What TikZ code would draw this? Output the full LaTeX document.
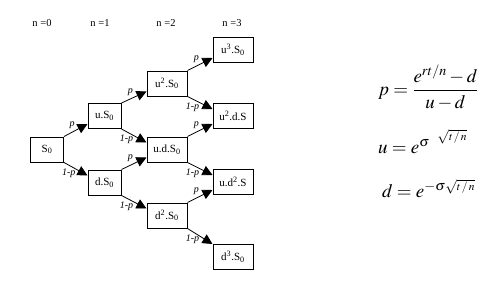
\documentclass[tikz,border=0pt]{standalone}
\usepackage{amsmath}
\usepackage{mathptmx}
\usepackage{fontspec}
\setmainfont{Liberation Serif}
\usetikzlibrary{positioning, arrows.meta}

\begin{document}
\begin{tikzpicture}[
      x=1pt, y=-1pt,
      box/.style={
        draw,
        line width=1pt,
        minimum width=40pt,
        minimum height=25pt,
        inner sep=1pt,
        font=\fontsize{11}{13}\selectfont
      },
      smallbox/.style={
        box,
        minimum width=33pt
      },
      arrow/.style={
        -{Triangle[length=10pt,width=10pt]},
        line width=0.8pt
      },
      prob/.style={
        font=\fontsize{10}{11}\selectfont\itshape,
        inner sep=1pt
      },
      head/.style={
        font=\fontsize{10.5}{12}\selectfont
      },
      formula/.style={
        anchor=base west,
        inner sep=0pt,
        font=\fontsize{19}{22}\selectfont
      }
    ]

    \useasboundingbox (0,0) rectangle (500,292);

    % step headers
    \node[head] (h0) at (42,23) {n =0};
    \node[head] (h1) at (100,23) {n =1};
    \node[head] (h2) at (166,23) {n =2};
    \node[head] (h3) at (232,23) {n =3};

    % tree
    \node[smallbox] (s0) at (47,149.5) {S\textsubscript{0}};
    \node[smallbox] (u1) at (104.5,116) {u.S\textsubscript{0}};
    \node[smallbox] (d1) at (104.5,182.5) {d.S\textsubscript{0}};
    \node[box] (uu2) at (167,83.5) {u\textsuperscript{2}.S\textsubscript{0}};
    \node[box] (ud2) at (167,149.5) {u.d.S\textsubscript{0}};
    \node[box] (dd2) at (167,215.5) {d\textsuperscript{2}.S\textsubscript{0}};
    \node[box] (uuu3) at (233,50) {u\textsuperscript{3}.S\textsubscript{0}};
    \node[box] (uud3) at (233,116) {u\textsuperscript{2}.d.S};
    \node[box] (udd3) at (233,182) {u.d\textsuperscript{2}.S};
    \node[box] (ddd3) at (233,257) {d\textsuperscript{3}.S\textsubscript{0}};

    % up moves
    \foreach \a/\b in {s0/u1, u1/uu2, d1/ud2, uu2/uuu3, ud2/uud3, dd2/udd3}
      \draw[arrow] (\a.north east) -- node[prob, pos=0.35, above=2pt] {p} ([yshift=5pt]\b.south west);

    % down moves
    \foreach \a/\b in {s0/d1, u1/ud2, d1/dd2, uu2/uud3, ud2/udd3}
      \draw[arrow] (\a.south east) -- node[prob, pos=0.2, below=2pt] {1-p} ([yshift=-6pt]\b.north west);
    \draw[arrow] (dd2.south east) -- node[prob, pos=0.2, below=2pt] {1-p} (ddd3.north west);

    % parameters
    \node[formula] (fp) at (378,95) {$p=\dfrac{e^{rt/n}-d}{u-d}$};
    \node[formula] (fu) at (378,153) {$u=e^{\sigma\hspace{8pt}\raisebox{6pt}{$\scriptstyle\sqrt{\scriptscriptstyle t\,/\,n}$}}$};
    \node[formula] (fd) at (382,197) {$d=e^{-\sigma\sqrt{\scriptscriptstyle t\,/\,n}}$};

    \end{tikzpicture}
\end{document}
